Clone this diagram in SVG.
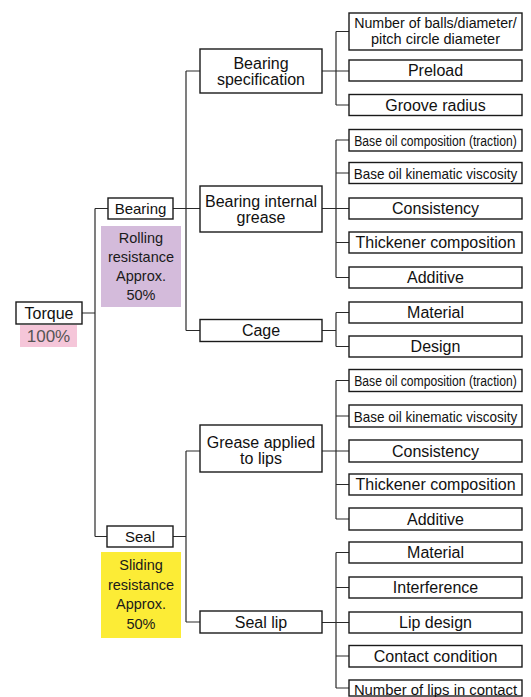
<svg xmlns="http://www.w3.org/2000/svg" width="531" height="697" viewBox="0 0 531 697">
  <style>
    .box { fill: #ffffff; stroke: #1a1a1a; stroke-width: 1.4; }
    .t { font-family: "Liberation Sans", Arial, Helvetica, sans-serif; font-size: 16px; text-anchor: middle; fill: #111111; }
    .s15 { font-size: 15px; }
    .s14 { font-size: 14.5px; }
    .lbl { font-family: "Liberation Sans", Arial, Helvetica, sans-serif; font-size: 14.5px; text-anchor: middle; fill: #1a1a1a; }
    .pct { font-family: "Liberation Sans", Arial, Helvetica, sans-serif; font-size: 17px; text-anchor: middle; fill: #555555; }
    .conn { fill: none; stroke: #2a2a2a; stroke-width: 1.2; }
  </style>

  <rect width="531" height="697" fill="#ffffff"/>

  <!-- connectors -->
  <g id="connectors" class="conn">
    <!-- trunk -->
    <path d="M82 313 H95 M95 208.5 V536.5 M95 208.5 H108 M95 536.5 H107"/>
    <!-- bearing branch -->
    <path d="M173 208.5 H200 M186 71 V330.5 M186 71 H200 M186 330.5 H200"/>
    <!-- seal branch -->
    <path d="M173 536.5 H186 M186 451 V622 M186 451 H200 M186 622 H200"/>
    <!-- bearing specification -->
    <path d="M322 71 H349 M336 31.5 V105 M336 31.5 H349 M336 105 H349"/>
    <!-- bearing internal grease -->
    <path d="M322 208.5 H349 M336 140 V277.5 M336 140 H349 M336 173 H349 M336 242.5 H349 M336 277.5 H349"/>
    <!-- cage -->
    <path d="M322 330.5 H336 M336 312.5 V346.5 M336 312.5 H349 M336 346.5 H349"/>
    <!-- grease applied to lips -->
    <path d="M322 451 H349 M336 380.5 V519 M336 380.5 H349 M336 416 H349 M336 484.5 H349 M336 519 H349"/>
    <!-- seal lip -->
    <path d="M322 622.5 H349 M336 552.5 V688 M336 552.5 H349 M336 587.5 H349 M336 656 H349 M336 688 H349"/>
  </g>

  <!-- root -->
  <g id="torque">
    <rect class="box" x="16" y="302" width="66" height="22"/>
    <text class="t" x="49" y="319">Torque</text>
    <rect x="20" y="325" width="57" height="22" fill="#f5c6d9"/>
    <text class="pct" x="48.5" y="341.5">100%</text>
  </g>

  <!-- first level -->
  <g id="bearing">
    <rect class="box" x="108" y="198" width="65" height="21"/>
    <text class="t s15" x="140.5" y="213.5">Bearing</text>
    <rect x="101" y="226" width="80" height="81" fill="#d4bbdb"/>
    <text class="lbl" x="141" y="243">Rolling</text>
    <text class="lbl" x="141" y="262">resistance</text>
    <text class="lbl" x="141" y="281">Approx.</text>
    <text class="lbl" x="141" y="300">50%</text>
  </g>

  <g id="seal">
    <rect class="box" x="107" y="526" width="66" height="21"/>
    <text class="t s15" x="140" y="541.5">Seal</text>
    <rect x="101" y="552" width="80" height="86" fill="#fcec36"/>
    <text class="lbl" x="141" y="570">Sliding</text>
    <text class="lbl" x="141" y="589.5">resistance</text>
    <text class="lbl" x="141" y="609">Approx.</text>
    <text class="lbl" x="141" y="629">50%</text>
  </g>

  <!-- second level -->
  <g id="bearing-specification">
    <rect class="box" x="200" y="49" width="122" height="44"/>
    <text class="t" x="261" y="69">Bearing</text>
    <text class="t" x="261" y="85">specification</text>
  </g>
  <g id="bearing-internal-grease">
    <rect class="box" x="200" y="186" width="122" height="46"/>
    <text class="t" x="261" y="207">Bearing internal</text>
    <text class="t" x="261" y="223">grease</text>
  </g>
  <g id="cage">
    <rect class="box" x="200" y="319.5" width="122" height="22"/>
    <text class="t" x="261" y="336">Cage</text>
  </g>
  <g id="grease-applied-to-lips">
    <rect class="box" x="200" y="425" width="122" height="47"/>
    <text class="t" x="261" y="448">Grease applied</text>
    <text class="t" x="261" y="464">to lips</text>
  </g>
  <g id="seal-lip">
    <rect class="box" x="200" y="611" width="122" height="22"/>
    <text class="t" x="261" y="627.5">Seal lip</text>
  </g>

  <!-- third level: bearing specification -->
  <g id="number-of-balls">
    <rect class="box" x="349" y="13" width="173" height="37"/>
    <text class="t s14" transform="translate(435.5 28) scale(0.98 1)">Number of balls/diameter/</text>
    <text class="t s14" x="435.5" y="44">pitch circle diameter</text>
  </g>
  <g id="preload">
    <rect class="box" x="349" y="60" width="173" height="21"/>
    <text class="t" x="435.5" y="76">Preload</text>
  </g>
  <g id="groove-radius">
    <rect class="box" x="349" y="94.5" width="173" height="21"/>
    <text class="t" x="435.5" y="110.5">Groove radius</text>
  </g>

  <!-- third level: bearing internal grease -->
  <g id="bearing-base-oil-composition">
    <rect class="box" x="349" y="129.5" width="173" height="21.5"/>
    <text class="t s15" transform="translate(435.5 145.5) scale(0.81 1)">Base oil composition (traction)</text>
  </g>
  <g id="bearing-base-oil-viscosity">
    <rect class="box" x="349" y="162.5" width="173" height="21"/>
    <text class="t s15" transform="translate(435.5 178.5) scale(0.9 1)">Base oil kinematic viscosity</text>
  </g>
  <g id="bearing-consistency">
    <rect class="box" x="349" y="198" width="173" height="21"/>
    <text class="t" x="435.5" y="214">Consistency</text>
  </g>
  <g id="bearing-thickener">
    <rect class="box" x="349" y="232" width="173" height="21"/>
    <text class="t" x="435.5" y="248">Thickener composition</text>
  </g>
  <g id="bearing-additive">
    <rect class="box" x="349" y="267" width="173" height="21"/>
    <text class="t" x="435.5" y="283">Additive</text>
  </g>

  <!-- third level: cage -->
  <g id="cage-material">
    <rect class="box" x="349" y="302" width="173" height="21"/>
    <text class="t" x="435.5" y="318">Material</text>
  </g>
  <g id="cage-design">
    <rect class="box" x="349" y="336" width="173" height="21"/>
    <text class="t" x="435.5" y="352">Design</text>
  </g>

  <!-- third level: grease applied to lips -->
  <g id="lip-base-oil-composition">
    <rect class="box" x="349" y="369.5" width="173" height="22"/>
    <text class="t s15" transform="translate(435.5 386) scale(0.81 1)">Base oil composition (traction)</text>
  </g>
  <g id="lip-base-oil-viscosity">
    <rect class="box" x="349" y="405" width="173" height="22"/>
    <text class="t s15" transform="translate(435.5 421.5) scale(0.9 1)">Base oil kinematic viscosity</text>
  </g>
  <g id="lip-consistency">
    <rect class="box" x="349" y="440" width="173" height="22"/>
    <text class="t" x="435.5" y="456.5">Consistency</text>
  </g>
  <g id="lip-thickener">
    <rect class="box" x="349" y="474" width="173" height="21"/>
    <text class="t" x="435.5" y="490">Thickener composition</text>
  </g>
  <g id="lip-additive">
    <rect class="box" x="349" y="508" width="173" height="22"/>
    <text class="t" x="435.5" y="524.5">Additive</text>
  </g>

  <!-- third level: seal lip -->
  <g id="lip-material">
    <rect class="box" x="349" y="542" width="173" height="21"/>
    <text class="t" x="435.5" y="558">Material</text>
  </g>
  <g id="lip-interference">
    <rect class="box" x="349" y="577" width="173" height="21"/>
    <text class="t" x="435.5" y="593">Interference</text>
  </g>
  <g id="lip-design">
    <rect class="box" x="349" y="612" width="173" height="21"/>
    <text class="t" x="435.5" y="628">Lip design</text>
  </g>
  <g id="lip-contact-condition">
    <rect class="box" x="349" y="645.5" width="173" height="21.5"/>
    <text class="t" x="435.5" y="662">Contact condition</text>
  </g>
  <g id="lip-number-of-lips">
    <rect class="box" x="349" y="680" width="173" height="16"/>
    <text class="t s15" transform="translate(435.5 694.5) scale(0.99 1)">Number of lips in contact</text>
  </g>
</svg>
